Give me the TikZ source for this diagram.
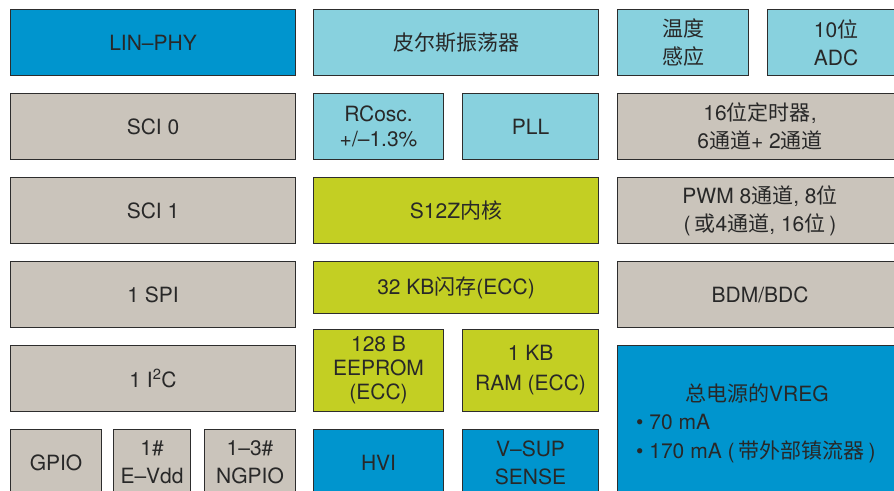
\documentclass[tikz,border=0pt]{standalone}
\usepackage{fontspec}
\setmainfont{TeX Gyre Heros}
\newfontfamily\cjk{Noto Sans CJK SC}
\definecolor{cblue}{RGB}{0,149,206}
\definecolor{ccyan}{RGB}{136,209,222}
\definecolor{cgray}{RGB}{202,196,187}
\definecolor{clime}{RGB}{195,207,35}
\definecolor{cline}{RGB}{45,45,45}
\definecolor{ctext}{RGB}{40,40,40}
\tikzset{
  blk/.style={draw=cline, line width=1.1pt, rectangle, anchor=north west, inner sep=0pt,
    align=center, text=ctext, font=\fontsize{21}{28}\selectfont},
  bluebox/.style={blk, fill=cblue},
  cyanbox/.style={blk, fill=ccyan},
  graybox/.style={blk, fill=cgray},
  limebox/.style={blk, fill=clime},
  plain/.style={anchor=west, inner sep=0pt, text=ctext, font=\fontsize{21}{28}\selectfont}
}
\begin{document}
\begin{tikzpicture}[x=1pt,y=-1pt]
\useasboundingbox (0,0) rectangle (894,490);
\clip (0,0) rectangle (894,490);
% row 1
\node[bluebox, minimum width=285pt, minimum height=66pt] (linphy) at (10,9) {LIN–PHY};
\node[cyanbox, minimum width=285pt, minimum height=66pt] (pierce) at (313,9) {\cjk 皮尔斯振荡器};
\node[cyanbox, minimum width=131pt, minimum height=66pt] (temp) at (617,9) {\cjk 温度\\\cjk 感应};
\node[cyanbox, minimum width=137pt, minimum height=66pt] (adc) at (767,9) {10{\cjk 位}\\ADC};
% row 2
\node[graybox, minimum width=285pt, minimum height=66pt] (sci0) at (10,93) {SCI 0};
\node[cyanbox, minimum width=130pt, minimum height=66pt, font=\fontsize{21}{25}\selectfont] (rcosc) at (313,93) {RCosc.\\+/–1.3\%};
\node[cyanbox, minimum width=136pt, minimum height=66pt] (pll) at (462,93) {PLL};
\node[graybox, minimum width=285pt, minimum height=66pt] (timer) at (617,93) {16{\cjk 位定时器}, \\6{\cjk 通道}+ 2{\cjk 通道}};
% row 3
\node[graybox, minimum width=285pt, minimum height=66pt] (sci1) at (10,177) {SCI 1};
\node[limebox, minimum width=285pt, minimum height=66pt] (core) at (313,177) {S12Z{\cjk 内核}};
\node[graybox, minimum width=285pt, minimum height=66pt] (pwm) at (617,177) {PWM 8{\cjk 通道}, 8{\cjk 位}\\(\hspace{4pt}{\cjk 或}4{\cjk 通道}, 16{\cjk 位}\hspace{4pt})};
% row 4
\node[graybox, minimum width=285pt, minimum height=66pt] (spi) at (10,261) {1 SPI};
\node[limebox, minimum width=285pt, minimum height=52pt] (flash) at (313,261) {32 KB{\cjk 闪存}(ECC)};
\node[graybox, minimum width=285pt, minimum height=66pt] (bdm) at (617,261) {BDM/BDC};
% row 5
\node[graybox, minimum width=285pt, minimum height=66pt] (i2c) at (10,345) {1 I\textsuperscript{2}C};
\node[limebox, minimum width=130pt, minimum height=82pt, font=\fontsize{21}{24}\selectfont] (eeprom) at (313,329) {128 B\\EEPROM\\(ECC)};
\node[limebox, minimum width=136pt, minimum height=82pt, font=\fontsize{21}{30}\selectfont] (ram) at (462,329) {1 KB\\RAM (ECC)};
\node[bluebox, minimum width=290pt, minimum height=160pt] (vreg) at (617,345) {};
\node[plain] (vregt) at (685,393) {{\cjk 总电源的}VREG};
\node[plain] (vreg1) at (636,422) {\textbullet\ 70 mA};
\node[plain] (vreg2) at (636,452) {\textbullet\ 170 mA (\hspace{4pt}{\cjk 带外部镇流器}\hspace{4pt})};
% row 6
\node[graybox, minimum width=91pt, minimum height=66pt] (gpio) at (10,429) {GPIO};
\node[graybox, minimum width=77pt, minimum height=66pt] (evdd) at (113,429) {1\#\\E–Vdd};
\node[graybox, minimum width=91pt, minimum height=66pt] (ngpio) at (204,429) {1–3\#\\NGPIO};
\node[bluebox, minimum width=130pt, minimum height=66pt] (hvi) at (313,429) {HVI};
\node[bluebox, minimum width=136pt, minimum height=66pt] (vsup) at (462,429) {V–SUP\\SENSE};
\end{tikzpicture}
\end{document}
